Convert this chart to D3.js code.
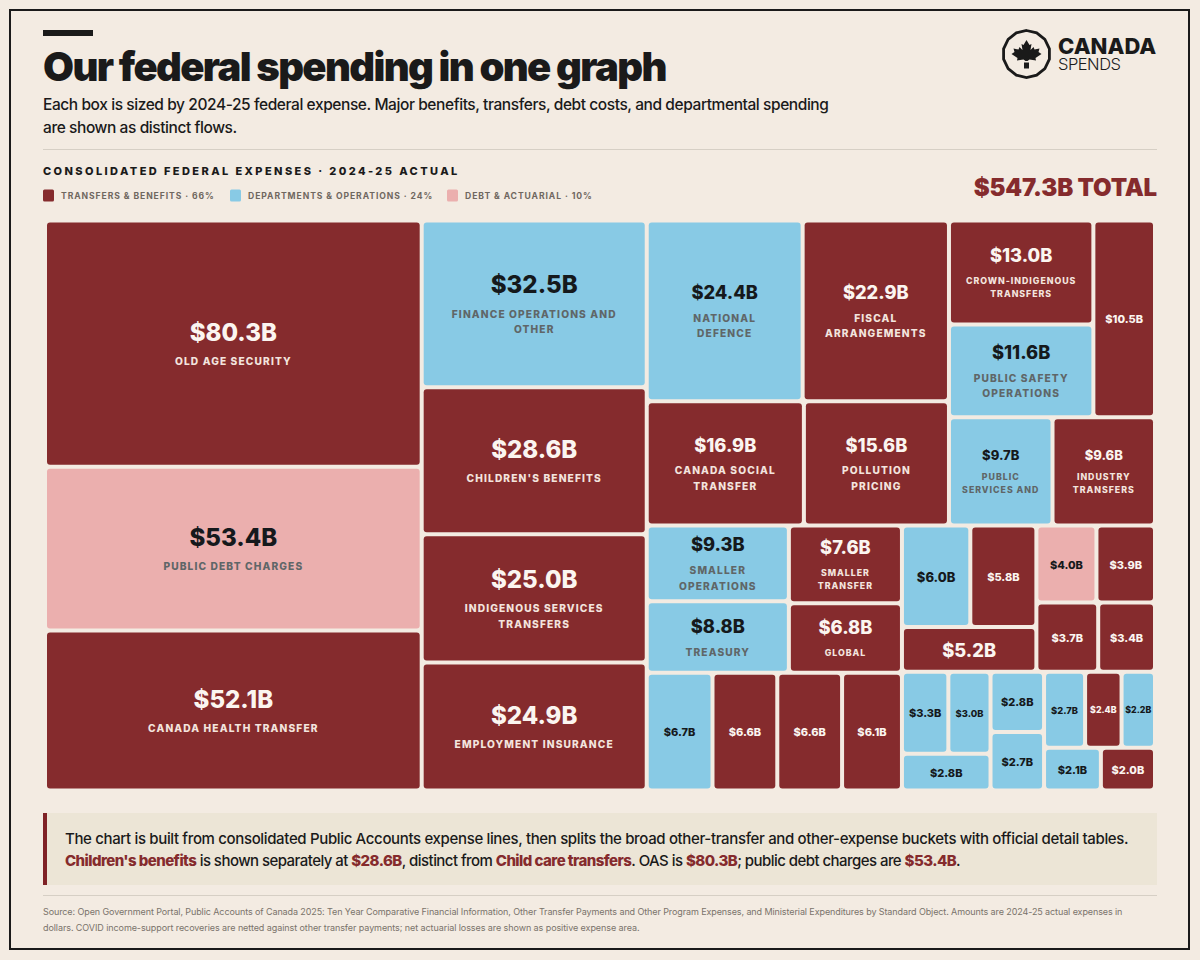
<!DOCTYPE html>
<html>
<head>
<meta charset="utf-8">
<script src="https://cdn.jsdelivr.net/npm/d3@7"></script>
<style>
  html, body { margin: 0; background: #f3ebe2; }
  svg { display: block; }
  text { font-family: Inter, sans-serif; }
</style>
</head>
<body>
<svg id="chart" width="1200" height="960"></svg>
<script>
// values in $B, same order as labels and kinds
var values = [80.3, 53.4, 52.1, 32.5, 28.6, 25.0, 24.9, 24.4, 22.9, 16.9, 15.6, 13.0, 11.6, 10.5,
  9.7, 9.6, 9.3, 8.8, 7.6, 6.8, 6.7, 6.6, 6.6, 6.1, 6.0, 5.8, 5.2, 4.0, 3.9, 3.7, 3.4,
  3.3, 3.0, 2.8, 2.8, 2.7, 2.7, 2.4, 2.2, 2.1, 2.0];

var labels = ['OLD AGE SECURITY', 'PUBLIC DEBT CHARGES', 'CANADA HEALTH TRANSFER',
  'FINANCE OPERATIONS AND|OTHER', "CHILDREN'S BENEFITS", 'INDIGENOUS SERVICES|TRANSFERS',
  'EMPLOYMENT INSURANCE', 'NATIONAL|DEFENCE', 'FISCAL|ARRANGEMENTS', 'CANADA SOCIAL|TRANSFER',
  'POLLUTION|PRICING', 'CROWN-INDIGENOUS|TRANSFERS', 'PUBLIC SAFETY|OPERATIONS', '',
  'PUBLIC|SERVICES AND', 'INDUSTRY|TRANSFERS', 'SMALLER|OPERATIONS', 'TREASURY',
  'SMALLER|TRANSFER', 'GLOBAL', '', '', '', '', '', '', '', '', '', '', '', '', '', '', '', '', '', '', '', '', ''];

// t = transfers, o = departments, d = debt
var kinds = ['t', 'd', 't', 'o', 't', 't', 't', 'o', 't', 't', 't', 't', 'o', 't',
  'o', 't', 'o', 'o', 't', 't', 'o', 't', 't', 't', 'o', 't', 't', 'd', 't', 't', 't',
  'o', 'o', 'o', 'o', 'o', 'o', 't', 'o', 'o', 't'];

// how the boxes nest: x splits across, y splits down, numbers index into values
var nesting = ['x',
  ['y', 0, 1, 2],
  ['y', 3, 4, 5, 6],
  ['y',
    ['x',
      ['y', ['x', 7, 8], ['x', 9, 10]],
      ['y', ['x', ['y', 11, 12], 13], ['x', 14, 15]]],
    ['x',
      ['y', ['x', ['y', 16, 17], ['y', 18, 19]], ['x', 20, 21, 22, 23]],
      ['y',
        ['x', ['y', ['x', 24, 25], 26], ['y', ['x', 27, 28], ['x', 29, 30]]],
        ['x', ['y', ['x', 31, 32], 33], ['y', 34, 35], ['y', ['x', 36, 37, 38], ['x', 39, 40]]]]]]];

var legendNames = ['TRANSFERS & BENEFITS · 66%', 'DEPARTMENTS & OPERATIONS · 24%', 'DEBT & ACTUARIAL · 10%'];
var legendKinds = ['t', 'o', 'd'];

var noteLines = [
  [['The chart is built from consolidated Public Accounts expense lines, then splits the broad other-transfer and other-expense buckets with official detail tables.', 0]],
  [["Children's benefits", 1], [' is shown separately at ', 0], ['$28.6B', 1], [', distinct from ', 0], ['Child care transfers', 1],
    ['. OAS is ', 0], ['$80.3B', 1], ['; public debt charges are ', 0], ['$53.4B', 1], ['.', 0]]
];

var sourceLines = [
  'Source: Open Government Portal, Public Accounts of Canada 2025: Ten Year Comparative Financial Information, Other Transfer Payments and Other Program Expenses, and Ministerial Expenditures by Standard Object. Amounts are 2024-25 actual expenses in',
  'dollars. COVID income-support recoveries are netted against other transfer payments; net actuarial losses are shown as positive expense area.'
];

var ink = '#1a1a1a', red = '#852b2d';
var fill = d3.scaleOrdinal().domain(['t', 'o', 'd']).range([red, '#88cae5', '#ebafae']);
var svg = d3.select('#chart');

function addText(x, y, str, size, weight, color, spacing, anchor) {
  return svg.append('text')
    .attr('x', x).attr('y', y)
    .attr('font-size', size)
    .attr('font-weight', weight)
    .attr('fill', color)
    .attr('letter-spacing', spacing || 0)
    .attr('text-anchor', anchor || 'start')
    .text(str);
}

// frame and header
svg.append('rect').attr('x', 10).attr('y', 10).attr('width', 1179).attr('height', 939)
  .attr('fill', 'none').attr('stroke', ink).attr('stroke-width', 2);
svg.append('rect').attr('x', 43).attr('y', 30).attr('width', 50).attr('height', 6).attr('fill', ink);

addText(43, 81, 'Our federal spending in one graph', 40, 900, ink, -1.64);
addText(43, 110, 'Each box is sized by 2024-25 federal expense. Major benefits, transfers, debt costs, and departmental spending', 15.5, 500, ink, -0.42);
addText(43, 133, 'are shown as distinct flows.', 15.5, 500, ink, -0.42);

svg.append('rect').attr('x', 43).attr('y', 149).attr('width', 1114).attr('height', 1).attr('fill', '#d6cfc5');

addText(43, 175, 'CONSOLIDATED FEDERAL EXPENSES · 2024-25 ACTUAL', 11, 800, ink, 2.41);
addText(1157, 196, '$547.3B TOTAL', 24, 900, red, -0.2, 'end');

// legend
var legendX = [43, 230, 447];
legendNames.forEach(function(name, i) {
  svg.append('rect').attr('x', legendX[i]).attr('y', 189.5).attr('width', 11).attr('height', 12).attr('rx', 1.5)
    .attr('fill', fill(legendKinds[i]));
  addText(legendX[i] + 18, 198.5, name, 8.6, 700, '#6f675f', 0.92);
});

// logo
var logo = svg.append('g').attr('transform', 'translate(1026.5,54)');
logo.append('path')
  .attr('d', d3.lineRadial().curve(d3.curveLinearClosed)(d3.range(14).map(function(i) { return [i / 14 * 2 * Math.PI, 23.5]; })))
  .attr('fill', 'none').attr('stroke', ink).attr('stroke-width', 2.8);
var leafHalf = [[0, -14], [3, -9], [5, -10], [4, -4], [7, -7], [8, -4.5], [13, -5.5], [12, -2], [15, 0], [9, 4], [9.5, 6.5], [3, 5.5], [1, 7]];
var leaf = leafHalf.concat(leafHalf.slice(1).reverse().map(function(p) { return [-p[0], p[1]]; }));
logo.append('polygon').attr('points', leaf.map(function(p) { return p.join(','); }).join(' ')).attr('fill', ink);
logo.append('rect').attr('x', -2.5).attr('y', 8.5).attr('width', 5).attr('height', 6).attr('fill', ink);
addText(1058, 54, 'CANADA', 22, 800, ink, 0);
addText(1058, 70, 'SPENDS', 16.5, 300, ink, -0.5);

// treemap
function toNode(n) {
  if (typeof n === 'number') return { index: n };
  return { dir: n[0], kids: n.slice(1).map(toNode) };
}

function tile(node, x0, y0, x1, y1) {
  (node.data.dir === 'x' ? d3.treemapDice : d3.treemapSlice)(node, x0, y0, x1, y1);
}

var root = d3.hierarchy(toNode(nesting), function(d) { return d.kids; })
  .sum(function(d) { return d.index === undefined ? 0 : values[d.index]; });

d3.treemap().tile(tile).size([1110, 570])(root);

function valueSize(w, h) {
  if (w >= 200) return 24;
  if (w >= 105) return 18.3;
  if (w >= 64 && h >= 60) return 13;
  if (w >= 42) return 11;
  if (w >= 34) return 9.4;
  return 8.8;
}

function labelSize(w, h) {
  if (w >= 138 && (h >= 102 || h <= 90)) return 10.2;
  return 8.8;
}

var cells = svg.append('g').attr('transform', 'translate(45,220.4)')
  .selectAll('g').data(root.leaves()).join('g')
  .attr('transform', function(d) { return 'translate(' + d.x0 + ',' + d.y0 + ')'; });

cells.append('rect')
  .attr('x', 2).attr('y', 2).attr('rx', 3)
  .attr('width', function(d) { return d.x1 - d.x0 - 4; })
  .attr('height', function(d) { return d.y1 - d.y0 - 4; })
  .attr('fill', function(d) { return fill(kinds[d.data.index]); });

cells.each(function(d) {
  var w = d.x1 - d.x0 - 4, h = d.y1 - d.y0 - 4;
  var i = d.data.index, g = d3.select(this), dark = kinds[i] === 't';
  var vs = valueSize(w, h), ls = labelSize(w, h);
  var lines = labels[i] ? labels[i].split('|') : [];
  var lh = ls * 1.5, gap = lines.length ? vs * 0.3 + 10 : 0;
  var blockH = vs * 0.73 + gap + (lines.length ? (lines.length - 1) * lh + ls * 0.73 : 0);
  var top = 2.6 + (h - blockH) / 2;
  var base = top + vs * 0.73;

  g.append('text')
    .attr('x', 2 + w / 2).attr('y', base)
    .attr('text-anchor', 'middle')
    .attr('font-size', vs).attr('font-weight', 800)
    .attr('fill', dark ? '#fbf5f0' : '#15191c')
    .text('$' + values[i].toFixed(1) + 'B');

  lines.forEach(function(line, k) {
    g.append('text')
      .attr('x', 2 + w / 2).attr('y', base + gap + ls * 0.73 + k * lh)
      .attr('text-anchor', 'middle')
      .attr('font-size', ls).attr('font-weight', 800)
      .attr('letter-spacing', ls * 0.11)
      .attr('fill', dark ? '#f3e4de' : '#5f6668')
      .text(line);
  });
});

// callout
svg.append('rect').attr('x', 43).attr('y', 813).attr('width', 1114).attr('height', 72).attr('fill', '#ece5d6');
svg.append('rect').attr('x', 43).attr('y', 813).attr('width', 4).attr('height', 72).attr('fill', '#7f2226');
var noteSpacing = [-0.35, -0.55];
noteLines.forEach(function(parts, i) {
  var t = addText(65, 844 + i * 22, null, 15, 500, ink, noteSpacing[i]);
  parts.forEach(function(p) {
    t.append('tspan')
      .attr('font-weight', p[1] ? 800 : 500)
      .attr('fill', p[1] ? red : ink)
      .text(p[0]);
  });
});

svg.append('rect').attr('x', 43).attr('y', 895).attr('width', 1114).attr('height', 1).attr('fill', '#d6cfc5');
sourceLines.forEach(function(line, i) {
  addText(43, 915 + i * 16, line, 9, 400, '#7a736b', i ? -0.08 : -0.1);
});
</script>
</body>
</html>
